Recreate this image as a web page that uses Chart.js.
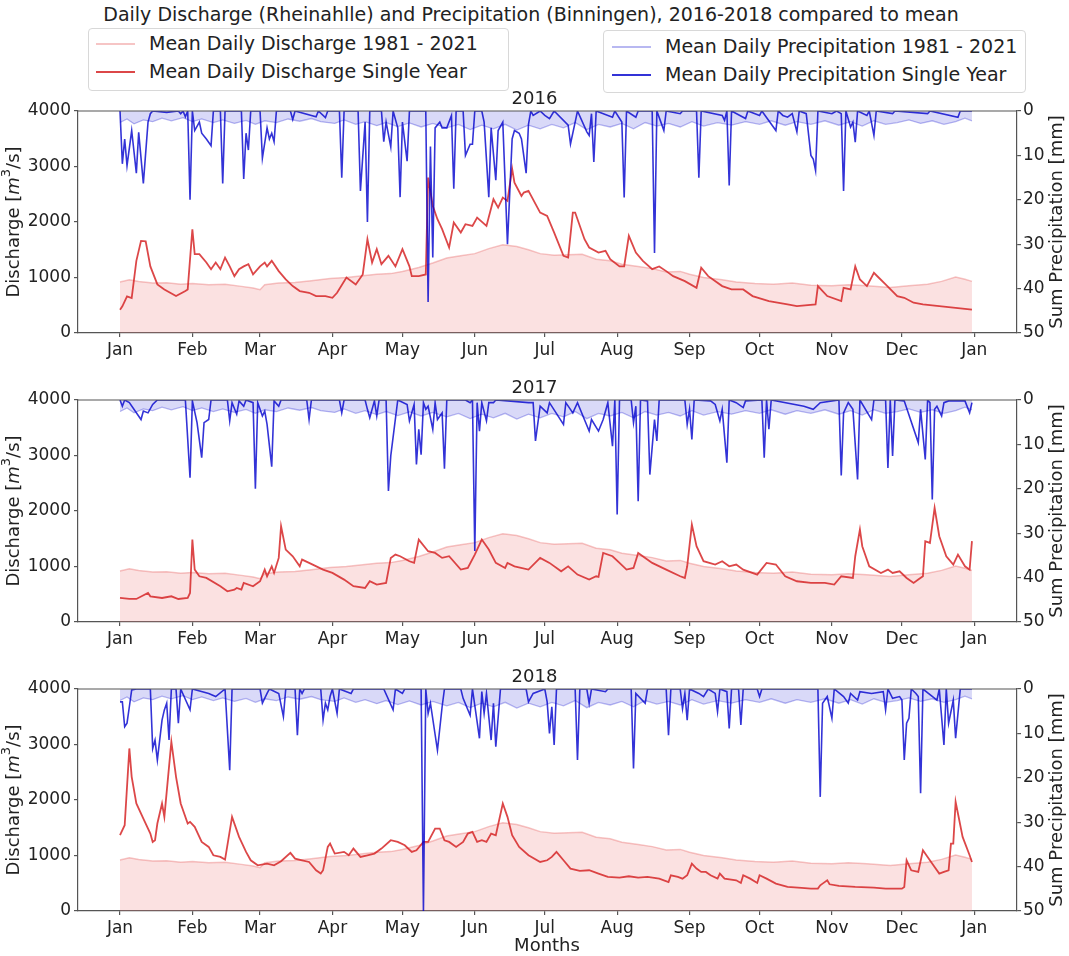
<!DOCTYPE html>
<html>
<head>
<meta charset="utf-8">
<script src="https://cdn.jsdelivr.net/npm/chart.js@4.4.1/dist/chart.umd.min.js"></script>
<style>
  body { margin: 0; background: #fff; font-family: "DejaVu Sans", sans-serif; color: #222; }
  #page { position: relative; width: 1069px; height: 956px; overflow: hidden; }
  canvas { position: absolute; left: 0; }
  .txt { position: absolute; white-space: nowrap; transform: translate(-50%, -50%); }
  .legend { position: absolute; border: 1px solid #d8d8d8; border-radius: 4px; background: rgba(255,255,255,0.85); }
  .row { position: absolute; left: 0; height: 26px; white-space: nowrap; font-size: 19px; }
  .row i { position: absolute; top: 12px; width: 39px; height: 2px; }
  .row span { position: absolute; top: 1px; }
</style>
</head>
<body>
<div id="page">
  <div class="txt" style="left:531px; top:14px; font-size:19px;">Daily Discharge (Rheinahlle) and Precipitation (Binningen), 2016-2018 compared to mean</div>

  <div class="legend" style="left:88px; top:28px; width:419px; height:61px;">
    <div class="row" style="top:2px;"><i style="left:7px; background:rgba(230,90,90,0.35);"></i><span style="left:60px;">Mean Daily Discharge 1981 - 2021</span></div>
    <div class="row" style="top:30px;"><i style="left:7px; background:rgba(214,39,40,0.85);"></i><span style="left:60px;">Mean Daily Discharge Single Year</span></div>
  </div>
  <div class="legend" style="left:603px; top:30px; width:421px; height:61px;">
    <div class="row" style="top:3px;"><i style="left:8px; background:rgba(0,0,205,0.28);"></i><span style="left:61px;">Mean Daily Precipitation 1981 - 2021</span></div>
    <div class="row" style="top:31px;"><i style="left:8px; background:rgba(0,0,205,0.8);"></i><span style="left:61px;">Mean Daily Precipitation Single Year</span></div>
  </div>

  <canvas id="c2016" width="1069" height="278" style="top:87px;"></canvas>
  <canvas id="c2017" width="1069" height="278" style="top:376px;"></canvas>
  <canvas id="c2018" width="1069" height="278" style="top:665px;"></canvas>

  <div class="txt" style="left:547px; top:944px; font-size:18px;">Months</div>
</div>

<script>
const monthTicks = [0, 31, 60, 91, 121, 152, 182, 213, 244, 274, 305, 335, 366];
const monthLabels = ["Jan", "Feb", "Mar", "Apr", "May", "Jun", "Jul", "Aug", "Sep", "Oct", "Nov", "Dec", "Jan"];
const years = ["2016", "2017", "2018"];

// [day of year, m3/s] - long-term mean, same in every panel
const meanDischarge = [[0,920],[4,960],[8,930],[14,900],[20,905],[26,880],[31,890],[38,870],[45,880],[52,840],
  [57,810],[60,780],[62,870],[68,900],[75,910],[82,940],[90,980],[97,1000],[104,1030],[110,1060],
  [116,1070],[121,1110],[128,1180],[134,1260],[140,1350],[146,1390],[152,1430],[158,1520],[164,1590],[170,1560],
  [175,1500],[180,1430],[186,1400],[192,1410],[198,1420],[204,1330],[210,1300],[215,1240],[222,1200],[228,1160],
  [234,1100],[240,1110],[244,1060],[250,1000],[258,960],[264,920],[272,890],[280,880],[288,900],[296,860],
  [305,850],[312,870],[320,850],[330,820],[338,850],[346,880],[352,930],[358,1010],[362,970],[365,930]];

// [day of year, mm] - long-term mean
const meanPrecip = [[0,2.6],[3,1.8],[6,2.9],[10,2.0],[14,2.4],[18,1.6],[22,2.2],[27,1.5],[31,2.4],[35,1.8],
  [40,2.6],[44,2.0],[49,2.8],[54,2.1],[58,3.0],[62,2.2],[67,2.6],[72,1.8],[77,2.3],[82,1.7],
  [86,2.4],[92,2.8],[96,2.0],[101,3.0],[105,2.4],[110,3.3],[114,2.6],[119,3.5],[124,2.7],[129,3.6],
  [134,2.8],[140,3.8],[145,3.0],[150,4.2],[155,3.2],[160,4.0],[165,3.0],[170,4.3],[175,3.2],[180,4.0],
  [185,3.0],[190,3.8],[195,2.6],[200,4.2],[205,3.0],[210,3.6],[215,2.8],[220,4.0],[225,2.6],[230,3.4],
  [235,2.8],[240,3.6],[245,2.4],[250,3.4],[256,2.6],[262,3.2],[268,2.4],[274,3.0],[279,2.2],[285,3.2],
  [290,2.4],[296,3.0],[302,2.2],[308,3.2],[313,2.4],[318,3.4],[323,2.2],[328,3.0],[333,2.6],[338,2.0],
  [343,2.8],[348,2.2],[353,3.0],[358,2.4],[362,1.6],[365,2.2]];

const discharge2016 = [[0,420],[1,480],[3,660],[5,630],[7,1300],[9,1660],[11,1650],[13,1200],[16,875],[19,785],
  [24,665],[28,755],[29,785],[31,1870],[32,1420],[34,1420],[37,1270],[39,1150],[41,1270],[43,1150],
  [45,1360],[47,1200],[49,1025],[51,1150],[53,1200],[55,1240],[57,1055],[60,1200],[62,1270],[63,1200],
  [65,1300],[68,1115],[71,965],[74,845],[77,755],[81,725],[84,665],[88,665],[91,635],[93,725],
  [97,1000],[101,875],[104,1055],[106,1690],[108,1270],[110,1510],[112,1240],[115,1390],[118,1200],[121,1510],
  [124,1200],[125,1025],[128,1025],[131,1055],[132,2800],[134,2290],[136,2050],[138,1870],[141,1540],[143,1990],
  [146,1810],[148,1960],[151,1930],[153,2080],[157,1930],[160,2410],[162,2260],[164,2440],[166,2380],[168,2960],
  [169,2710],[172,2470],[173,2530],[175,2560],[180,2170],[183,2110],[186,1810],[190,1390],[192,1360],[194,2170],
  [195,2170],[199,1690],[201,1540],[205,1450],[208,1480],[210,1330],[214,1200],[216,1200],[218,1750],[221,1450],
  [224,1300],[228,1150],[231,1200],[234,1115],[237,1025],[242,935],[247,815],[249,1175],[252,1025],[258,845],
  [262,785],[267,785],[271,665],[278,575],[286,515],[290,485],[298,515],[299,845],[303,665],[309,575],
  [310,815],[313,785],[315,1200],[317,965],[320,845],[323,1085],[325,1000],[328,875],[333,665],[336,635],
  [340,545],[344,515],[351,485],[359,450],[365,420]];

const precip2016 = [[0,0],[1,11.9],[2,6.3],[3,12.3],[5,4.4],[7,14],[8,4.8],[10,16.3],[12,2.5],[13,0.6],
  [14,0],[20,0.3],[25,0],[26,0.6],[27,0],[28,1.3],[29,0],[30,20],[31,0],[32,4.4],
  [34,2.5],[35,5],[37,6.3],[39,7.8],[40,0],[43,0],[44,16.3],[45,0],[52,0],[53,15.3],
  [54,5],[55,8.8],[56,0],[60,0],[61,10.6],[63,3.8],[64,6.3],[65,5],[66,6.9],[67,0],
  [73,0],[74,1.9],[75,0],[84,1.3],[85,0],[88,1.5],[89,0],[94,0],[95,15],[96,0],
  [102,0],[103,18],[105,2.5],[106,25],[107,0],[112,0],[113,6.9],[114,2.5],[116,8.1],[117,0],
  [119,3.8],[120,19.4],[121,2.5],[123,11.3],[124,0],[131,0],[132,43],[133,8],[134,33],[135,3.8],
  [137,2.5],[138,3.8],[140,3.8],[142,1],[143,17.5],[144,0],[147,0],[148,10],[150,7.5],[151,7.5],
  [152,0],[155,0],[156,2.5],[158,19.4],[159,3.8],[161,15.6],[162,4.4],[164,2.5],[166,30],[168,6.3],
  [169,4.4],[171,5],[172,6.3],[174,14],[175,3],[176,0],[177,1],[180,0],[182,1],[184,1.7],
  [186,0],[192,3.2],[193,7.4],[195,2.5],[196,0],[200,4.7],[201,5.5],[202,0.6],[203,11.5],[204,0],
  [211,1.4],[212,0],[215,2.5],[216,19.5],[217,0],[221,1.4],[222,0],[228,0],[229,32],[230,0],
  [232,2.9],[233,4.4],[234,0],[240,0.6],[241,0],[247,0],[248,15],[249,0],[258,1],[259,2.1],
  [260,0],[261,16.8],[262,0],[268,1.7],[269,0],[274,1],[275,0],[281,4.4],[282,0],[284,1],
  [286,1.4],[288,0.6],[290,4.7],[291,0],[294,0.6],[296,10],[297,10.8],[298,13.4],[299,0],[305,0.6],
  [307,0],[309,0.6],[310,18],[311,0],[313,3.6],[314,2.5],[315,7],[316,0],[320,1],[321,0],
  [323,5.5],[324,0],[331,0.6],[332,0],[346,0.6],[347,0],[359,1.4],[360,0],[365,0]];

const discharge2017 = [[0,433],[4,415],[7,415],[12,523],[13,463],[18,433],[22,463],[25,415],[29,433],[30,523],
  [31,1485],[32,944],[34,824],[37,794],[43,644],[46,553],[49,583],[50,613],[52,583],[53,704],
  [57,644],[60,734],[62,944],[63,824],[65,1004],[66,884],[68,1155],[69,1726],[71,1305],[74,1185],
  [77,1004],[78,1125],[81,1065],[87,944],[91,884],[96,764],[100,644],[105,613],[107,734],[110,674],
  [114,704],[116,1155],[118,1215],[120,1185],[124,1095],[126,1065],[128,1485],[132,1275],[135,1245],[138,1155],
  [141,1185],[146,944],[149,974],[152,1215],[155,1485],[158,1305],[161,1065],[165,974],[166,1065],[169,1004],
  [175,944],[180,1155],[184,1065],[189,914],[192,1004],[196,854],[201,764],[204,824],[205,812],[207,1245],
  [211,1185],[214,1065],[217,944],[220,974],[222,1245],[228,1065],[234,944],[240,824],[242,794],[243,1004],
  [245,1756],[247,1365],[250,1095],[255,1035],[258,1095],[261,1004],[264,1035],[267,944],[273,854],[277,1065],
  [281,1035],[285,824],[290,734],[296,704],[302,704],[306,674],[309,824],[314,794],[315,1185],[317,1666],
  [318,1365],[321,1004],[326,884],[329,944],[331,884],[334,914],[337,794],[340,704],[342,764],[344,824],
  [345,1456],[347,1425],[349,2057],[351,1546],[354,1185],[357,1035],[359,1215],[362,1004],[364,944],[365,1456]];

const precip2017 = [[0,0],[1,1.4],[2,0],[4,0.6],[9,4.4],[10,2.5],[12,2.9],[14,1],[16,0],[28,0],
  [30,17.5],[31,0.2],[33,5.1],[35,13],[36,5.1],[38,4.4],[39,0],[46,0],[47,4.7],[48,0.6],
  [50,3.2],[51,0.2],[53,1.4],[54,0],[57,0.6],[58,20],[59,0.6],[61,3.6],[62,2.5],[63,5.5],
  [65,15],[66,0.2],[68,1.4],[69,0],[80,0],[81,4.4],[82,0],[94,0],[95,2.9],[96,0],
  [105,0],[106,2.1],[107,4],[109,0.2],[110,3.6],[111,0],[114,0],[115,20.5],[116,12.6],[119,0],
  [123,1],[124,4.7],[126,1],[127,14.5],[128,6.6],[129,12.3],[130,0.6],[131,2.1],[132,1.4],[134,6.6],
  [135,0.6],[136,4.4],[138,2.9],[139,15.5],[140,0],[148,0],[150,0.6],[151,0],[152,34],[153,0.6],
  [154,7],[155,0.6],[157,4.7],[158,0.6],[160,0.6],[161,0],[175,0.6],[177,0.6],[178,9.2],[180,1.4],
  [183,2.9],[184,0.6],[190,5.5],[191,0.6],[194,2.9],[196,0.6],[201,7],[202,4.4],[205,7],[207,4.4],
  [209,0.6],[211,10.4],[212,0],[213,25.8],[214,0],[219,0],[220,5.1],[221,1.4],[222,22.8],[223,0],
  [226,0.2],[227,16.8],[229,4.4],[230,9.2],[231,0],[242,0],[243,5.5],[244,2.1],[245,8.9],[246,0],
  [253,0.2],[255,1],[257,4.7],[258,2.1],[260,14.1],[261,0],[264,0.6],[267,1.7],[268,0.2],[275,0],
  [276,13],[277,0],[278,6.6],[279,0],[293,1.4],[297,2.1],[300,0.6],[308,0],[309,17],[310,2.9],
  [312,0.6],[314,2.1],[316,17.9],[317,0],[322,4.4],[323,0],[328,0],[329,15.3],[330,0],[331,12.6],
  [332,0],[336,0.2],[342,9.6],[343,2.1],[345,13.4],[346,0],[347,0.6],[348,22.4],[349,2.1],[350,1.4],
  [352,3.6],[353,0.6],[355,0.2],[362,0.2],[364,2.9],[365,0.6]];

const discharge2018 = [[0,1365],[2,1546],[4,2929],[5,2418],[7,1937],[10,1666],[13,1395],[14,1245],[15,1275],[16,1576],
  [18,1937],[19,1696],[20,2147],[22,3050],[24,2418],[26,1937],[29,1576],[30,1606],[32,1516],[35,1245],
  [38,1155],[40,1004],[43,974],[45,926],[48,1696],[51,1335],[54,1065],[56,914],[59,824],[63,854],
  [66,824],[69,896],[73,1047],[75,944],[78,914],[81,884],[84,734],[86,674],[87,734],[89,1155],
  [90,1215],[92,1035],[96,1065],[98,1004],[100,1125],[103,974],[106,1004],[109,1035],[112,1125],[116,1275],
  [119,1245],[122,1185],[125,1065],[127,1095],[130,1245],[132,1245],[135,1486],[137,1486],[139,1275],[141,1245],
  [144,1155],[147,1245],[149,1395],[151,1425],[153,1245],[155,1275],[157,1245],[159,1395],[161,1365],[164,1937],
  [166,1696],[168,1365],[171,1155],[175,1004],[180,884],[183,914],[185,974],[187,1065],[190,914],[193,764],
  [197,722],[201,734],[205,674],[209,614],[214,602],[218,626],[222,602],[226,614],[231,583],[235,523],
  [236,644],[239,614],[241,583],[243,644],[245,854],[247,764],[249,704],[251,704],[253,644],[256,583],
  [257,674],[259,583],[264,553],[266,505],[267,644],[270,583],[273,505],[274,644],[277,583],[281,493],
  [286,433],[292,415],[296,403],[299,403],[300,463],[301,493],[303,553],[304,481],[308,451],[315,433],
  [323,421],[328,403],[335,403],[336,433],[337,914],[339,734],[342,704],[344,1095],[346,974],[349,794],
  [351,674],[353,704],[355,734],[356,1215],[357,1215],[358,1967],[359,1756],[361,1335],[364,1004],[365,884]];

const precip2018 = [[0,2.9],[1,2.9],[2,8.5],[3,7.7],[4,4],[5,0.2],[7,0],[13,0],[14,13.4],[15,11.5],
  [16,16],[18,7],[19,4.7],[20,3.2],[21,11.5],[22,0],[24,0],[25,7.7],[26,0],[30,4.7],
  [31,0],[38,1],[41,1.7],[45,0],[47,18.3],[48,0],[60,0],[61,3.2],[63,1],[64,0],
  [68,1],[70,6.2],[71,0],[75,0],[76,10.4],[77,0],[78,1],[79,0],[86,0],[87,7],
  [88,3.2],[89,4.7],[90,1.7],[91,0],[93,5.5],[94,0],[99,1],[100,0],[113,0],[117,4.7],
  [118,0],[121,1],[122,0],[129,0],[130,50],[131,0],[132,5.5],[133,3.2],[136,13.8],[138,4],
  [139,0],[146,0],[147,2.1],[150,5.9],[151,0],[154,11.1],[155,0.6],[156,5.5],[157,1],[159,11.5],
  [160,3.2],[161,13],[163,0],[174,0],[175,2.9],[177,1],[182,0],[183,2.9],[184,10],[185,4],
  [186,12.6],[187,0],[195,0],[196,16],[197,0],[200,0],[201,3.2],[202,0],[208,0.6],[209,0],
  [219,0],[220,17.9],[221,1],[225,3.2],[226,0],[234,0],[235,10.4],[236,0],[240,0],[241,4.4],
  [242,1],[243,7],[244,0],[248,1],[250,1.7],[252,0],[255,1],[256,5.1],[257,0],[260,0.6],
  [261,8.9],[262,0],[265,0],[266,8.1],[267,0],[273,0],[274,1.7],[275,0],[299,0],[300,24.3],
  [301,3.2],[303,1.7],[305,6.6],[306,0],[310,1.7],[312,3.2],[313,1],[316,2.5],[317,0.6],[322,1],
  [327,0.6],[328,4.7],[329,0],[331,2.1],[334,1.7],[335,2.5],[336,16],[337,7.7],[338,6.6],[339,0],
  [341,1],[342,1.7],[343,23.5],[344,0],[350,2.5],[351,0],[353,12.6],[354,0],[355,7.7],[357,2.5],
  [358,11.1],[360,0],[365,0]];

const dischargeByYear = [discharge2016, discharge2017, discharge2018];
const precipByYear = [precip2016, precip2017, precip2018];

const FONT = '"DejaVu Sans"';
Chart.defaults.font.family = FONT;
Chart.defaults.color = "#222";

const toXY = (arr) => arr.map(([x, y]) => ({ x: x, y: y }));

// top spine + axis labels matplotlib-style (both read bottom to top)
const frame = {
  id: "frame",
  afterDraw(chart) {
    const { ctx, chartArea: a } = chart;
    const mid = (a.top + a.bottom) / 2;
    ctx.save();
    ctx.strokeStyle = "#555";
    ctx.lineWidth = 1.2;
    ctx.beginPath();
    ctx.moveTo(a.left, a.top);
    ctx.lineTo(a.right, a.top);
    ctx.stroke();
    ctx.fillStyle = "#222";
    ctx.textBaseline = "middle";
    const parts = [
      ["Discharge [", "18px " + FONT, 0],
      ["m", "italic 18px " + FONT, 0],
      ["3", "13px " + FONT, -7],
      ["/s]", "18px " + FONT, 0],
    ];
    let total = 0;
    parts.forEach((p) => { ctx.font = p[1]; p.w = ctx.measureText(p[0]).width; total += p.w; });
    ctx.translate(14, mid);
    ctx.rotate(-Math.PI / 2);
    let x = -total / 2;
    parts.forEach((p) => { ctx.font = p[1]; ctx.fillText(p[0], x, p[2]); x += p.w; });
    ctx.restore();

    ctx.save();
    ctx.translate(1057, mid);
    ctx.rotate(-Math.PI / 2);
    ctx.font = "18px " + FONT;
    ctx.fillStyle = "#222";
    ctx.textAlign = "center";
    ctx.textBaseline = "middle";
    ctx.fillText("Sum Precipitation [mm]", 0, 0);
    ctx.restore();
  },
};

const axisBorder = { color: "#555", width: 1.2 };
const tickGrid = { drawOnChartArea: false, tickLength: 4, color: "#555", lineWidth: 1.2 };
const tickFont = { size: 17 };

years.forEach((year, i) => {
  const el = document.getElementById("c" + year);
  new Chart(el, {
    type: "line",
    data: {
      datasets: [
        {
          label: "Mean Daily Precipitation Single Year",
          data: toXY(precipByYear[i]),
          yAxisID: "yP",
          borderColor: "rgba(0,0,205,0.8)",
          borderWidth: 1.6,
          fill: false,
          order: 0,
        },
        {
          label: "Mean Daily Precipitation 1981 - 2021",
          data: toXY(meanPrecip),
          yAxisID: "yP",
          borderColor: "rgba(0,0,205,0.28)",
          backgroundColor: "rgba(0,0,205,0.15)",
          borderWidth: 1.3,
          fill: "origin",
          order: 1,
        },
        {
          label: "Mean Daily Discharge Single Year",
          data: toXY(dischargeByYear[i]),
          yAxisID: "yQ",
          borderColor: "rgba(214,39,40,0.85)",
          borderWidth: 1.8,
          fill: false,
          order: 2,
        },
        {
          label: "Mean Daily Discharge 1981 - 2021",
          data: toXY(meanDischarge),
          yAxisID: "yQ",
          borderColor: "rgba(230,90,90,0.35)",
          backgroundColor: "rgba(240,128,128,0.24)",
          borderWidth: 1.5,
          fill: "origin",
          order: 3,
        },
      ],
    },
    options: {
      responsive: false,
      animation: false,
      devicePixelRatio: 1,
      elements: { point: { radius: 0 }, line: { tension: 0 } },
      layout: { padding: 0 },
      plugins: {
        legend: { display: false },
        tooltip: { enabled: false },
        title: {
          display: true,
          text: year,
          color: "#222",
          font: { size: 18, weight: "normal" },
          padding: { top: 1.4, bottom: 1 },
        },
      },
      scales: {
        x: {
          type: "linear",
          min: -18,
          max: 384.3,
          afterBuildTicks: (s) => { s.ticks = monthTicks.map((v) => ({ value: v })); },
          afterFit: (s) => { s.height = 32; },
          ticks: {
            autoSkip: false,
            maxRotation: 0,
            padding: 3,
            color: "#222",
            font: tickFont,
            callback: (v, idx) => monthLabels[idx],
          },
          grid: tickGrid,
          border: axisBorder,
        },
        yQ: {
          position: "left",
          min: 0,
          max: 4000,
          afterFit: (s) => { s.width = 78; },
          ticks: { stepSize: 1000, padding: 3, color: "#222", font: tickFont, callback: (v) => String(v) },
          grid: tickGrid,
          border: axisBorder,
        },
        yP: {
          position: "right",
          reverse: true,
          min: 0,
          max: 50,
          afterFit: (s) => { s.width = 52; },
          ticks: { stepSize: 10, padding: 2, color: "#222", font: tickFont, callback: (v) => String(v) },
          grid: tickGrid,
          border: axisBorder,
        },
      },
    },
    plugins: [frame],
  });
});
</script>
</body>
</html>
